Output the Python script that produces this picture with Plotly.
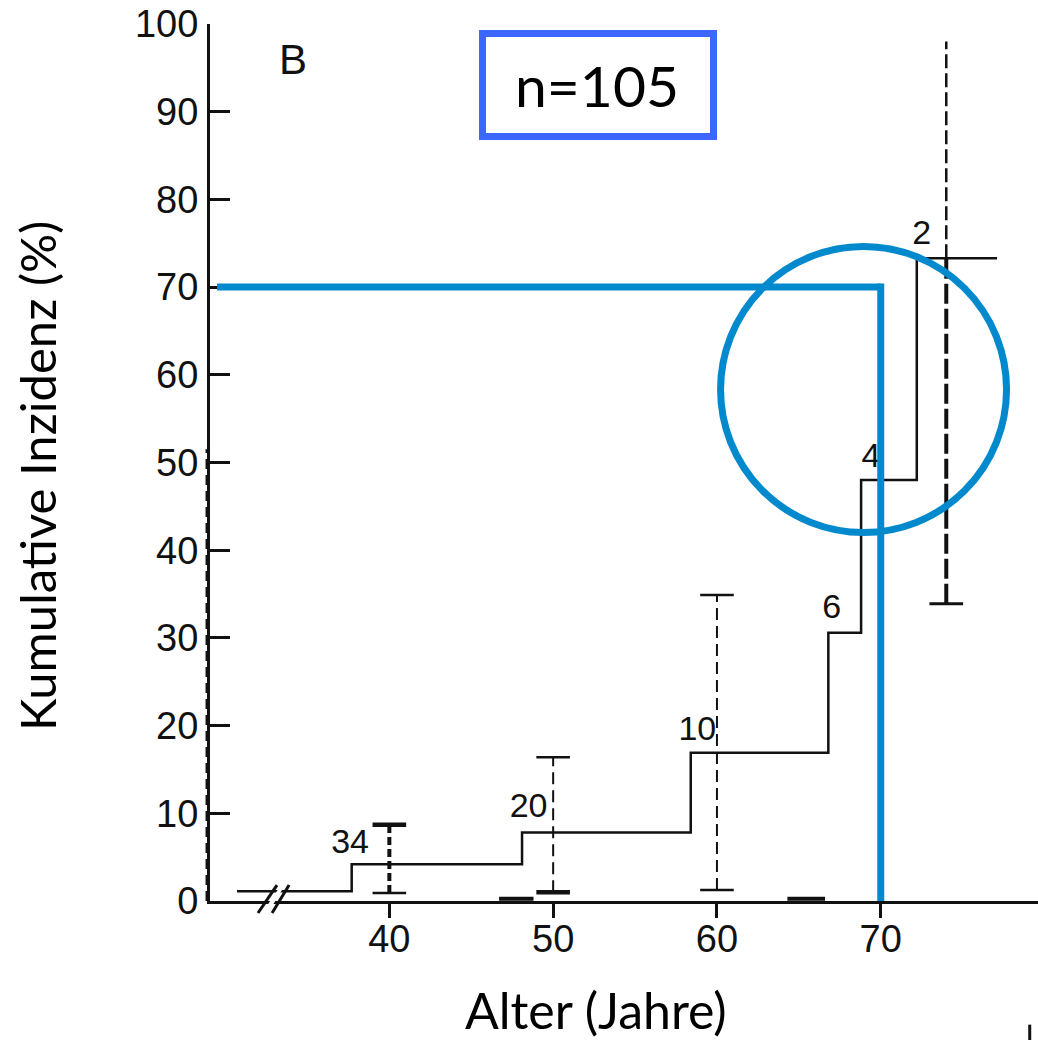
import plotly.graph_objects as go

# Cumulative incidence step curve (age in years, percent)
step_age = [30.7, 37.7, 48.1, 58.4, 66.8, 68.8, 72.2, 77.1]
step_pct = [1.1, 4.2, 7.8, 16.9, 30.6, 48.0, 73.3, 73.3]

# Confidence intervals at selected ages
ci_age = [40, 50, 60, 74.0]
ci_low = [0.9, 1.0, 1.25, 33.9]
ci_high = [8.7, 16.4, 34.9, 98.0]

# Numbers at risk printed beside the curve
risk_labels = ["34", "20", "10", "6", "4", "2"]
risk_age = [37.6, 48.5, 58.8, 67.0, 69.4, 72.5]
risk_pct = [6.5, 10.6, 19.3, 33.2, 50.5, 75.9]

# Short heavy segments of the second curve lying on the baseline
base_seg_start = [46.7, 64.3]
base_seg_end = [48.8, 66.6]

# Reading lines at 70 years / 70 %
read_age = 70
read_pct = 70

x_ticks = [40, 50, 60, 70]
y_ticks = list(range(0, 101, 10))

X_RANGE = [29.05, 79.60]
Y_RANGE = [0, 100]

BLACK = "#111111"
MARK_BLUE = "rgb(0,137,204)"
BOX_BLUE = "rgb(59,102,255)"
SCAN_FONT = "Liberation Sans"
TEXT_FONT = "Lato"

fig = go.Figure()

# Step curve
fig.add_trace(go.Scatter(
    x=step_age, y=step_pct, mode="lines", line_shape="hv",
    line=dict(color=BLACK, width=2.5), hoverinfo="skip", showlegend=False,
))

# Dashed confidence bars with caps
bar_width = [4, 2, 2, 4]
bar_dash = ["8px,4px", "12px,6px", "12px,6px", "20px,5px"]
top_cap = [True, True, True, False]
top_cap_w = [4.5, 2.5, 2.5, 2.5]
low_cap_w = [2.5, 4.5, 2.5, 3]
for i, a in enumerate(ci_age):
    lo, hi = ci_low[i], ci_high[i]
    if lo < step_pct[-1] < hi and i == len(ci_age) - 1:
        # heavy lower part, lighter upper part above the curve end
        fig.add_trace(go.Scatter(
            x=[a, a], y=[lo, step_pct[-1]], mode="lines",
            line=dict(color=BLACK, width=bar_width[i], dash=bar_dash[i]),
            hoverinfo="skip", showlegend=False))
        fig.add_trace(go.Scatter(
            x=[a, a], y=[step_pct[-1], hi], mode="lines",
            line=dict(color=BLACK, width=2.5, dash="14px,5px"),
            hoverinfo="skip", showlegend=False))
    else:
        fig.add_trace(go.Scatter(
            x=[a, a], y=[lo, hi], mode="lines",
            line=dict(color=BLACK, width=bar_width[i], dash=bar_dash[i]),
            hoverinfo="skip", showlegend=False))
    fig.add_trace(go.Scatter(
        x=[a], y=[lo], mode="markers",
        marker=dict(symbol="line-ew", size=24,
                    line=dict(color=BLACK, width=low_cap_w[i])),
        hoverinfo="skip", showlegend=False))
    if top_cap[i]:
        fig.add_trace(go.Scatter(
            x=[a], y=[hi], mode="markers",
            marker=dict(symbol="line-ew", size=24,
                        line=dict(color=BLACK, width=top_cap_w[i])),
            hoverinfo="skip", showlegend=False))

# Heavy pieces on the baseline
for s, e in zip(base_seg_start, base_seg_end):
    fig.add_trace(go.Scatter(
        x=[s, e], y=[0.25, 0.25], mode="lines",
        line=dict(color=BLACK, width=4), hoverinfo="skip", showlegend=False))

# Numbers at risk
fig.add_trace(go.Scatter(
    x=risk_age, y=risk_pct, mode="text", text=risk_labels,
    textfont=dict(family=SCAN_FONT, size=34, color=BLACK),
    hoverinfo="skip", showlegend=False, cliponaxis=False,
))

shapes = []
# Axis break on the baseline: white gap and two slashes
bx = [31.98, 33.14, 32.84, 33.88]
by = [-0.0137, 0.0182]
shapes.append(dict(
    type="path", xref="x", yref="paper",
    path=f"M {bx[0]+0.25},{by[0]} L {bx[1]+0.25},{by[1]} L {bx[3]-0.25},{by[1]} L {bx[2]-0.25},{by[0]} Z",
    fillcolor="white", line=dict(width=0), layer="above"))
shapes.append(dict(type="line", xref="x", yref="paper",
                   x0=bx[0], y0=by[0], x1=bx[1], y1=by[1],
                   line=dict(color=BLACK, width=3), layer="above"))
shapes.append(dict(type="line", xref="x", yref="paper",
                   x0=bx[2], y0=by[0], x1=bx[3], y1=by[1],
                   line=dict(color=BLACK, width=3), layer="above"))

# Dashes hugging the vertical axis
shapes.append(dict(type="line", xref="paper", yref="paper",
                   x0=-0.0036, x1=-0.0036, y0=0.0, y1=0.515,
                   line=dict(color=BLACK, width=3, dash="10px,6px")))
# Small stroke at the lower right corner
shapes.append(dict(type="line", xref="paper", yref="paper",
                   x0=0.990, x1=0.990, y0=-0.141, y1=-0.16,
                   line=dict(color=BLACK, width=3)))

# Reading lines and circle
shapes.append(dict(type="line", xref="x", yref="y",
                   x0=29.48, y0=read_pct, x1=read_age, y1=read_pct,
                   line=dict(color=MARK_BLUE, width=7), layer="above"))
shapes.append(dict(type="line", xref="x", yref="y",
                   x0=read_age, y0=0, x1=read_age, y1=read_pct + 0.4,
                   line=dict(color=MARK_BLUE, width=7), layer="above"))
shapes.append(dict(type="circle", xref="x", yref="y",
                   x0=60.22, x1=77.68, y0=42.02, y1=74.63,
                   line=dict(color=MARK_BLUE, width=7), layer="above"))

# Sample size box
shapes.append(dict(type="rect", xref="paper", yref="paper",
                   x0=(482.5 - 210) / 828, x1=(713.5 - 210) / 828,
                   y0=(901 - 136.5) / 877, y1=(901 - 33.5) / 877,
                   line=dict(color=BOX_BLUE, width=7), fillcolor="white"))

annotations = [
    dict(text="n=105", xref="paper", yref="paper",
         x=(597 - 210) / 828, y=(901 - 85) / 877,
         showarrow=False, xanchor="center", yanchor="middle",
         font=dict(family=TEXT_FONT, size=57, color="black")),
    dict(text="B", xref="x", yref="y", x=34.1, y=96.0,
         showarrow=False, xanchor="center", yanchor="middle",
         font=dict(family=SCAN_FONT, size=42, color=BLACK)),
    dict(text="Alter (Jahre)", xref="paper", yref="paper",
         x=(596 - 210) / 828, y=(901 - 1010) / 877,
         showarrow=False, xanchor="center", yanchor="middle",
         font=dict(family=TEXT_FONT, size=50, color="black")),
    dict(text="Kumulative Inzidenz (%)", xref="paper", yref="paper",
         x=(37 - 210) / 828, y=(901 - 476) / 877, textangle=-90,
         showarrow=False, xanchor="center", yanchor="middle",
         font=dict(family=TEXT_FONT, size=49, color="black")),
]

fig.update_layout(
    width=1038, height=1040,
    margin=dict(l=210, r=0, t=24, b=139),
    paper_bgcolor="white", plot_bgcolor="white",
    shapes=shapes, annotations=annotations,
    showlegend=False,
    xaxis=dict(
        range=X_RANGE, tickmode="array", tickvals=x_ticks,
        ticktext=[str(v) for v in x_ticks],
        ticks="outside", ticklen=14, tickwidth=2.5, tickcolor=BLACK,
        showline=True, linewidth=3, linecolor=BLACK,
        showgrid=False, zeroline=False, ticklabelstandoff=-12,
        tickfont=dict(family=SCAN_FONT, size=38, color=BLACK),
    ),
    yaxis=dict(
        range=Y_RANGE, tickmode="array", tickvals=y_ticks,
        ticktext=[str(v) for v in y_ticks],
        ticks="inside", ticklen=20, tickwidth=2.5, tickcolor=BLACK,
        showline=True, linewidth=3, linecolor=BLACK,
        showgrid=False, zeroline=False, ticklabelstandoff=1,
        tickfont=dict(family=SCAN_FONT, size=38, color=BLACK),
    ),
)

fig.write_html("out.html")
